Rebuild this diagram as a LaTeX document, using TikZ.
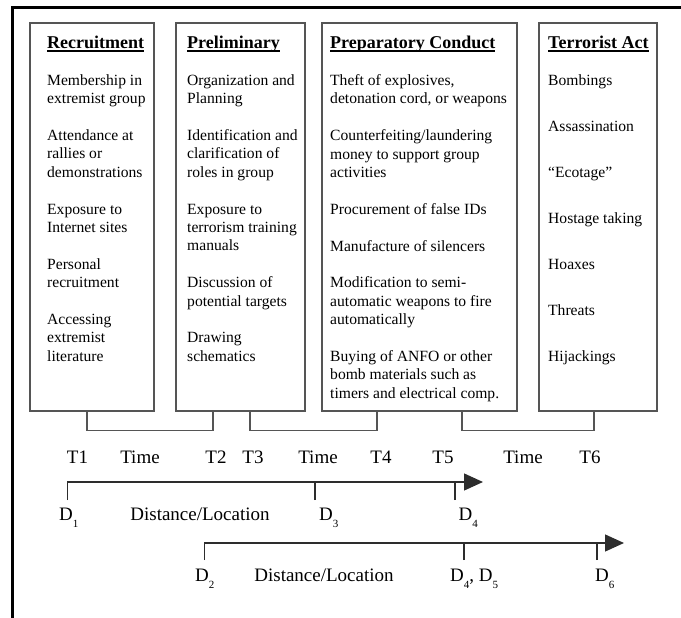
\documentclass[tikz,border=0pt]{standalone}
\usepackage{fontspec}
\setmainfont{Liberation Serif}
\usepackage{tikz}
\usetikzlibrary{positioning,calc,arrows.meta}
\definecolor{phasegray}{RGB}{85,85,85}
\definecolor{axisgray}{RGB}{45,45,45}
\definecolor{framegray}{RGB}{0,0,0}
\newcommand{\dsub}[1]{\raisebox{-0.42em}{\fontsize{11}{11}\selectfont #1}}
\newcommand{\phasehead}[1]{\setbox0\hbox{\fontsize{18}{20}\selectfont\bfseries #1}\rlap{\rule[-2.6pt]{\wd0}{1.1pt}}\box0}

\begin{document}
\begin{tikzpicture}[x=1pt, y=-1pt,
  every node/.style={inner sep=0pt, align=left, font=\fontsize{15.6}{18.4}\selectfont},
  stage/.style={draw=phasegray, line width=1.5pt, minimum height=388pt},
  items/.style={anchor=north west},
  link/.style={draw=phasegray, line width=1.3pt},
  axis/.style={draw=axisgray, line width=1.3pt},
  tlabel/.style={anchor=base, font=\fontsize{19}{19}\selectfont},
  dlabel/.style={anchor=base west, font=\fontsize{19}{19}\selectfont}]
\useasboundingbox (0,0) rectangle (681,618);
\draw[framegray, line width=2.6pt] (12.3,620) -- (12.3,7.3) -- (683,7.3);

% the four phases
\node[stage, minimum width=124pt] (rec) at (92,217) {};
\node[stage, minimum width=129pt] (pre) at (240.5,217) {};
\node[stage, minimum width=195pt] (prep) at (419.5,217) {};
\node[stage, minimum width=118pt] (act) at (598,217) {};

\node[anchor=base west] (rec head) at (47,49) {\phasehead{Recruitment}};
\node[anchor=base west] (pre head) at (187,49) {\phasehead{Preliminary}};
\node[anchor=base west] (prep head) at (330,49) {\phasehead{Preparatory Conduct}};
\node[anchor=base west] (act head) at (548,49) {\phasehead{Terrorist Act}};

\node[items] (rec list) at (47,74.3) {Membership in\\extremist group\\[18.4pt]
  Attendance at\\rallies or\\demonstrations\\[18.4pt]
  Exposure to\\Internet sites\\[18.4pt]
  Personal\\recruitment\\[18.4pt]
  Accessing\\extremist\\literature};
\node[items] (pre list) at (187,74.3) {Organization and\\Planning\\[18.4pt]
  Identification and\\clarification of\\roles in group\\[18.4pt]
  Exposure to\\terrorism training\\manuals\\[18.4pt]
  Discussion of\\potential targets\\[18.4pt]
  Drawing\\schematics};
\node[items] (prep list) at (330,74.3) {Theft of explosives,\\detonation cord, or weapons\\[18.4pt]
  Counterfeiting/laundering\\money to support group\\activities\\[18.4pt]
  Procurement of false IDs\\[18.4pt]
  Manufacture of silencers\\[18.4pt]
  Modification to semi-\\automatic weapons to fire\\automatically\\[18.4pt]
  Buying of ANFO or other\\bomb materials such as\\timers and electrical comp.};
\node[items] (act list) at (548,74.3) {Bombings\\[27.6pt]
  Assassination\\[27.6pt]
  ``Ecotage''\\[27.6pt]
  Hostage taking\\[27.6pt]
  Hoaxes\\[27.6pt]
  Threats\\[27.6pt]
  Hijackings};

% brackets under the boxes
\coordinate (rec s) at ([xshift=-5pt]rec.south);
\coordinate (pre s1) at ([xshift=-27.5pt]pre.south);
\coordinate (pre s2) at ([xshift=9.5pt]pre.south);
\coordinate (prep s1) at ([xshift=-42.5pt]prep.south);
\coordinate (prep s2) at ([xshift=42.5pt]prep.south);
\coordinate (act s) at ([xshift=-4pt]act.south);
\draw[link] (rec s) -- ++(0,19) -| (pre s1);
\draw[link] (pre s2) -- ++(0,19) -| (prep s1);
\draw[link] (prep s2) -- ++(0,19) -| (act s);

% time
\node[tlabel] (t1) at (77.5,463) {T1};
\node[tlabel] (time1) at (140,463) {Time};
\node[tlabel] (t2) at (216,463) {T2};
\node[tlabel] (t3) at (253,463) {T3};
\node[tlabel] (time2) at (318,463) {Time};
\node[tlabel] (t4) at (381,463) {T4};
\node[tlabel] (t5) at (443,463) {T5};
\node[tlabel] (time3) at (523,463) {Time};
\node[tlabel] (t6) at (590,463) {T6};

% distance / location, first line
\coordinate (d1) at (67.7,500);
\coordinate (d3) at (315,500);
\coordinate (d4) at (455,500);
\coordinate (ax1 tip) at (483,482);
\draw[axis, -{Triangle[length=19pt,width=17pt]}] (d1) |- (ax1 tip);
\draw[axis] (d3) -- (d3 |- ax1 tip);
\draw[axis] (d4) -- (d4 |- ax1 tip);
\node[dlabel] (d1 lab) at (59,520) {D\dsub{1}};
\node[tlabel] (dist1) at (200,520) {Distance/Location};
\node[dlabel] (d3 lab) at (319,520) {D\dsub{3}};
\node[dlabel] (d4 lab) at (458.5,520) {D\dsub{4}};

% distance / location, second line
\coordinate (d2) at (204.8,560);
\coordinate (d45) at (464,560);
\coordinate (d6) at (597,560);
\coordinate (ax2 tip) at (624,543);
\draw[axis, -{Triangle[length=19pt,width=17pt]}] (d2) |- (ax2 tip);
\draw[axis] (d45) -- (d45 |- ax2 tip);
\draw[axis] (d6) -- (d6 |- ax2 tip);
\node[dlabel] (d2 lab) at (195,581) {D\dsub{2}};
\node[tlabel] (dist2) at (324,581) {Distance/Location};
\node[dlabel] (d45 lab) at (450,581) {D\dsub{4}, D\dsub{5}};
\node[dlabel] (d6 lab) at (595,581) {D\dsub{6}};
\end{tikzpicture}
\end{document}
